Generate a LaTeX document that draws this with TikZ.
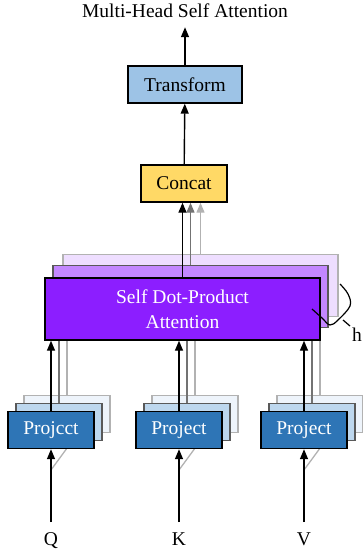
\documentclass[tikz,border=0pt]{standalone}
\usepackage{fontspec}
\setmainfont{Liberation Serif}
\usetikzlibrary{arrows.meta,calc}
\definecolor{tfblue}{HTML}{9DC3E6}
\definecolor{cyellow}{HTML}{FFD966}
\definecolor{pfront}{HTML}{8C1EFF}
\definecolor{pmid}{HTML}{C387FF}
\definecolor{pback}{HTML}{EEDEFF}
\definecolor{pjfront}{HTML}{2E75B6}
\definecolor{pjmid}{HTML}{BDD7EE}
\definecolor{pjback}{HTML}{EEF4FB}
\pgfdeclarelayer{bgc}
\pgfdeclarelayer{bgb}
\pgfsetlayers{bgc,bgb,main}
\begin{document}
\begin{tikzpicture}[x=1pt,y=-1pt,
  every node/.style={font=\fontsize{19.5}{25}\selectfont},
  fbox/.style={draw=black, line width=1.4pt, inner sep=0pt},
  mbox/.style={draw=black!65, line width=1.3pt, inner sep=0pt},
  bbox/.style={draw=black!30, line width=1.2pt, inner sep=0pt},
  psz/.style={minimum width=86pt, minimum height=37pt},
  asz/.style={minimum width=275pt, minimum height=62pt},
  arr/.style={-{Triangle[length=10pt,width=8pt]}, line width=1.4pt, draw=black},
  garr/.style={-{Triangle[length=10pt,width=8pt]}, line width=1.3pt, draw=black!55},
  larr/.style={-{Triangle[length=10pt,width=8pt]}, line width=1.3pt, draw=black!30},
  gline/.style={line width=1.3pt, draw=black!55},
  lline/.style={line width=1.3pt, draw=black!30}]
\useasboundingbox (0,0) rectangle (362,554);

\node[anchor=base] (title) at (185,17.5) {Multi-Head Self Attention};
\node[fbox, fill=tfblue, minimum width=114pt, minimum height=37pt] (tr) at (185,84.5) {Transform};
\node[fbox, fill=cyellow, minimum width=86pt, minimum height=37pt] (cc) at (184,183.5) {Concat};
\draw[arr, shorten >=6pt] (tr) -- (title);
\draw[arr] (cc) -- (tr);

% attention stack
\begin{pgfonlayer}{bgc}
\node[bbox, fill=pback, asz] (s3) at (200.5,285.5) {};
\draw[larr] (s3.north) -- (s3.north |- cc.south);
\end{pgfonlayer}
\begin{pgfonlayer}{bgb}
\node[mbox, fill=pmid, asz] (s2) at (190.5,296.5) {};
\draw[garr] (s2.north) -- (s2.north |- cc.south);
\end{pgfonlayer}
\node[fbox, fill=pfront, asz, text=white, align=center] (s1) at (182.5,309) {Self Dot-Product\\Attention};
\draw[arr] (s1.north) -- (s1.north |- cc.south);

% project stacks
\foreach \n/\x/\t/\lab in {q/51/Projcct/Q, k/179/Project/K, v/304/Project/V}{
  \coordinate (\n d) at (\x,470);
  \coordinate (\n 0) at (\x,522);
  \begin{pgfonlayer}{bgc}
    \node[bbox, fill=pjback, psz] (\n 3) at (\x+16,414) {};
    \draw[lline] (\n d) -- ($(\n 3.south)+(11,0)$);
    \draw[lline] (\n 3.north) -- (\n 3.north |- s3.south);
  \end{pgfonlayer}
  \begin{pgfonlayer}{bgb}
    \node[mbox, fill=pjmid, psz] (\n 2) at (\x+8,422) {};
    \draw[gline] (\n 2.north) -- (\n 2.north |- s2.south);
  \end{pgfonlayer}
  \node[fbox, fill=pjfront, psz, text=white] (\n 1) at (\x,430) {\t};
  \draw[arr] (\n 1.north) -- (\n 1.north |- s1.south);
  \draw[arr] (\n 0) -- (\n 1.south);
  \node[anchor=base] (\n l) at (\x,545) {\lab};
}

% brace for h heads
\draw[line width=1.2pt] plot[smooth, tension=0.6] coordinates {(312,309) (322,318) (330,325) (338,320) (350,306) (348,294) (340,284)};
\draw[line width=1.2pt] (343,320) -- (350,326);
\node[anchor=base] (h) at (357,341) {h};
\end{tikzpicture}
\end{document}
